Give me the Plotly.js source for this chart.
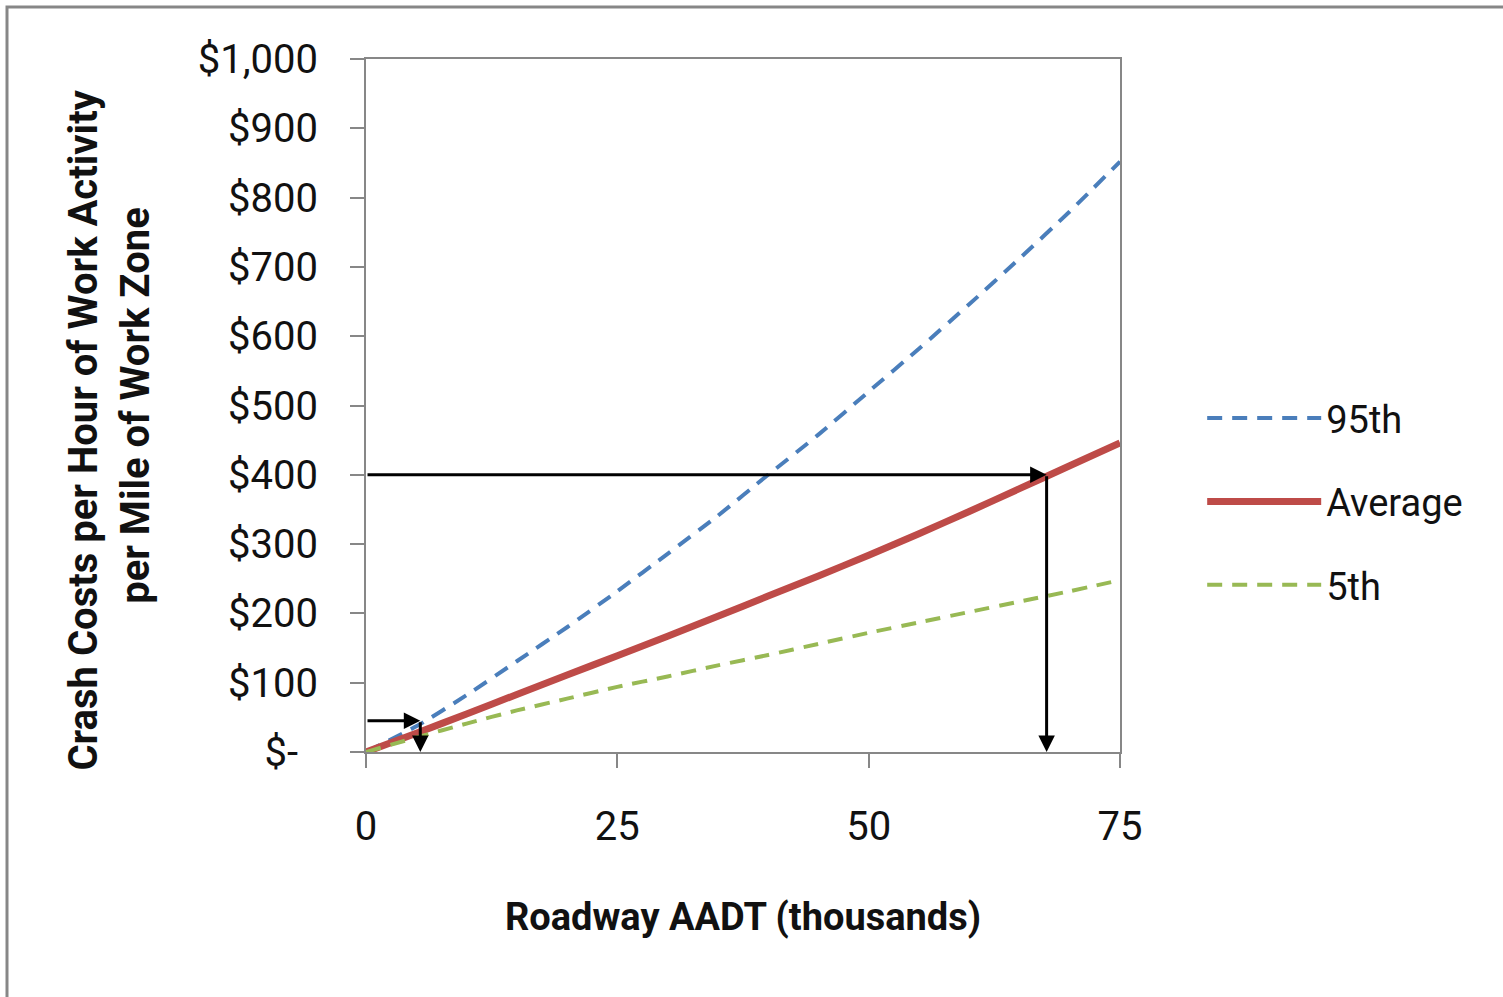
<!DOCTYPE html>
<html>
<head>
<meta charset="utf-8">
<script src="https://cdn.plot.ly/plotly-3.0.1.min.js"></script>
<style>
  html, body { margin: 0; padding: 0; background: #ffffff; }
  #chart { width: 1503px; height: 997px; }
</style>
</head>
<body>
<div id="chart"></div>
<script>
// ---- data ----
const aadt = [0, 5, 10, 15, 20, 25, 30, 35, 40, 45, 50, 55, 60, 65, 70, 75];
const p95  = [0, 37, 82, 131, 180, 232, 286, 341, 400, 458, 520, 582, 646, 712, 780, 852];
const avg  = [0, 27, 55, 83, 111, 139, 167, 196, 225, 254, 284, 315, 347, 380, 413, 446];
const p5   = [0, 21, 41, 60, 77, 94, 109, 125, 140, 156, 172, 187, 202, 217, 232, 248];

const seriesNames = ['95th', 'Average', '5th'];

const yTickVals = [0, 100, 200, 300, 400, 500, 600, 700, 800, 900, 1000];
const yTickText = ['$-\u00a0\u00a0', '$100', '$200', '$300', '$400', '$500', '$600', '$700', '$800', '$900', '$1,000'];
const xTickVals = [0, 25, 50, 75];

// reading guides (example look-ups)
const guideX = [5.4, 67.7];
const guideY = [45, 400];

const FONT = 'Roboto, "Noto Sans", sans-serif';
const PAD = '\u00a0\u00a0\u00a0\u00a0\u00a0';

const traces = [
  { x: aadt, y: p95, name: seriesNames[0], mode: 'lines', legendgroup: 'a',
    line: { color: '#4A7EBB', width: 4, dash: '15px,10px', shape: 'spline', smoothing: 0.6 } },
  { x: aadt, y: avg, name: seriesNames[1], mode: 'lines', legendgroup: 'b',
    line: { color: '#BE4B48', width: 7, shape: 'spline', smoothing: 0.6 } },
  { x: aadt, y: p5, name: seriesNames[2], mode: 'lines', legendgroup: 'c',
    line: { color: '#98B954', width: 4, dash: '15px,10px', shape: 'spline', smoothing: 0.6 } }
];

const annotations = [];
for (let i = 0; i < guideX.length; i++) {
  annotations.push({ x: guideX[i], y: guideY[i], ax: 0, ay: guideY[i],
    xref: 'x', yref: 'y', axref: 'x', ayref: 'y', text: '', showarrow: true,
    arrowhead: 2, arrowsize: 1.1, arrowwidth: 3, arrowcolor: '#000', standoff: 0, startstandoff: 0 });
  annotations.push({ x: guideX[i], y: 0, ax: guideX[i], ay: guideY[i],
    xref: 'x', yref: 'y', axref: 'x', ayref: 'y', text: '', showarrow: true,
    arrowhead: 2, arrowsize: 1.1, arrowwidth: 3, arrowcolor: '#000', standoff: 0, startstandoff: 0 });
}

const layout = {
  width: 1503, height: 997,
  margin: { l: 366, r: 383, t: 59, b: 245 },
  paper_bgcolor: '#ffffff', plot_bgcolor: '#ffffff',
  font: { family: FONT, size: 38, color: '#111111' },
  showlegend: true,
  legend: {
    x: 1.109, xanchor: 'left', y: 0.527, yanchor: 'top',
    traceorder: 'grouped', tracegroupgap: 31, itemwidth: 114,
    font: { family: FONT, size: 38, color: '#111111' },
    bgcolor: 'rgba(0,0,0,0)'
  },
  xaxis: {
    range: [0, 75], tickvals: xTickVals, ticktext: xTickVals.map(String),
    showgrid: false, zeroline: false,
    showline: true, mirror: true, linecolor: '#878787', linewidth: 2,
    ticks: 'outside', ticklen: 14, tickwidth: 2, tickcolor: '#878787',
    ticklabelstandoff: 24,
    tickfont: { family: FONT, size: 40, color: '#111111' },
    title: { text: 'Roadway AADT (thousands)', standoff: 54,
      font: { family: FONT, size: 38, color: '#111111', weight: 'bold' } }
  },
  yaxis: {
    range: [0, 1000], tickvals: yTickVals, ticktext: yTickText,
    showgrid: false, zeroline: false,
    showline: true, mirror: true, linecolor: '#878787', linewidth: 2,
    ticks: 'outside', ticklen: 14, tickwidth: 2, tickcolor: '#878787',
    ticklabelstandoff: 24,
    tickfont: { family: FONT, size: 40, color: '#111111' },
    title: { text: 'Crash Costs per Hour of Work Activity' + PAD + '<br>per Mile of Work Zone' + PAD, standoff: 36,
      font: { family: FONT, size: 40, color: '#111111', weight: 'bold' } }
  },
  annotations: annotations,
  shapes: [
    { type: 'rect', xref: 'paper', yref: 'paper',
      x0: (7 - 366) / 754, x1: (1515 - 366) / 754,
      y0: (752 - 1010) / 693, y1: (752 - 7) / 693,
      line: { color: '#878787', width: 3 }, fillcolor: 'rgba(0,0,0,0)', layer: 'below' }
  ]
};

Plotly.newPlot('chart', traces, layout, { displayModeBar: false, staticPlot: true });
</script>
</body>
</html>
